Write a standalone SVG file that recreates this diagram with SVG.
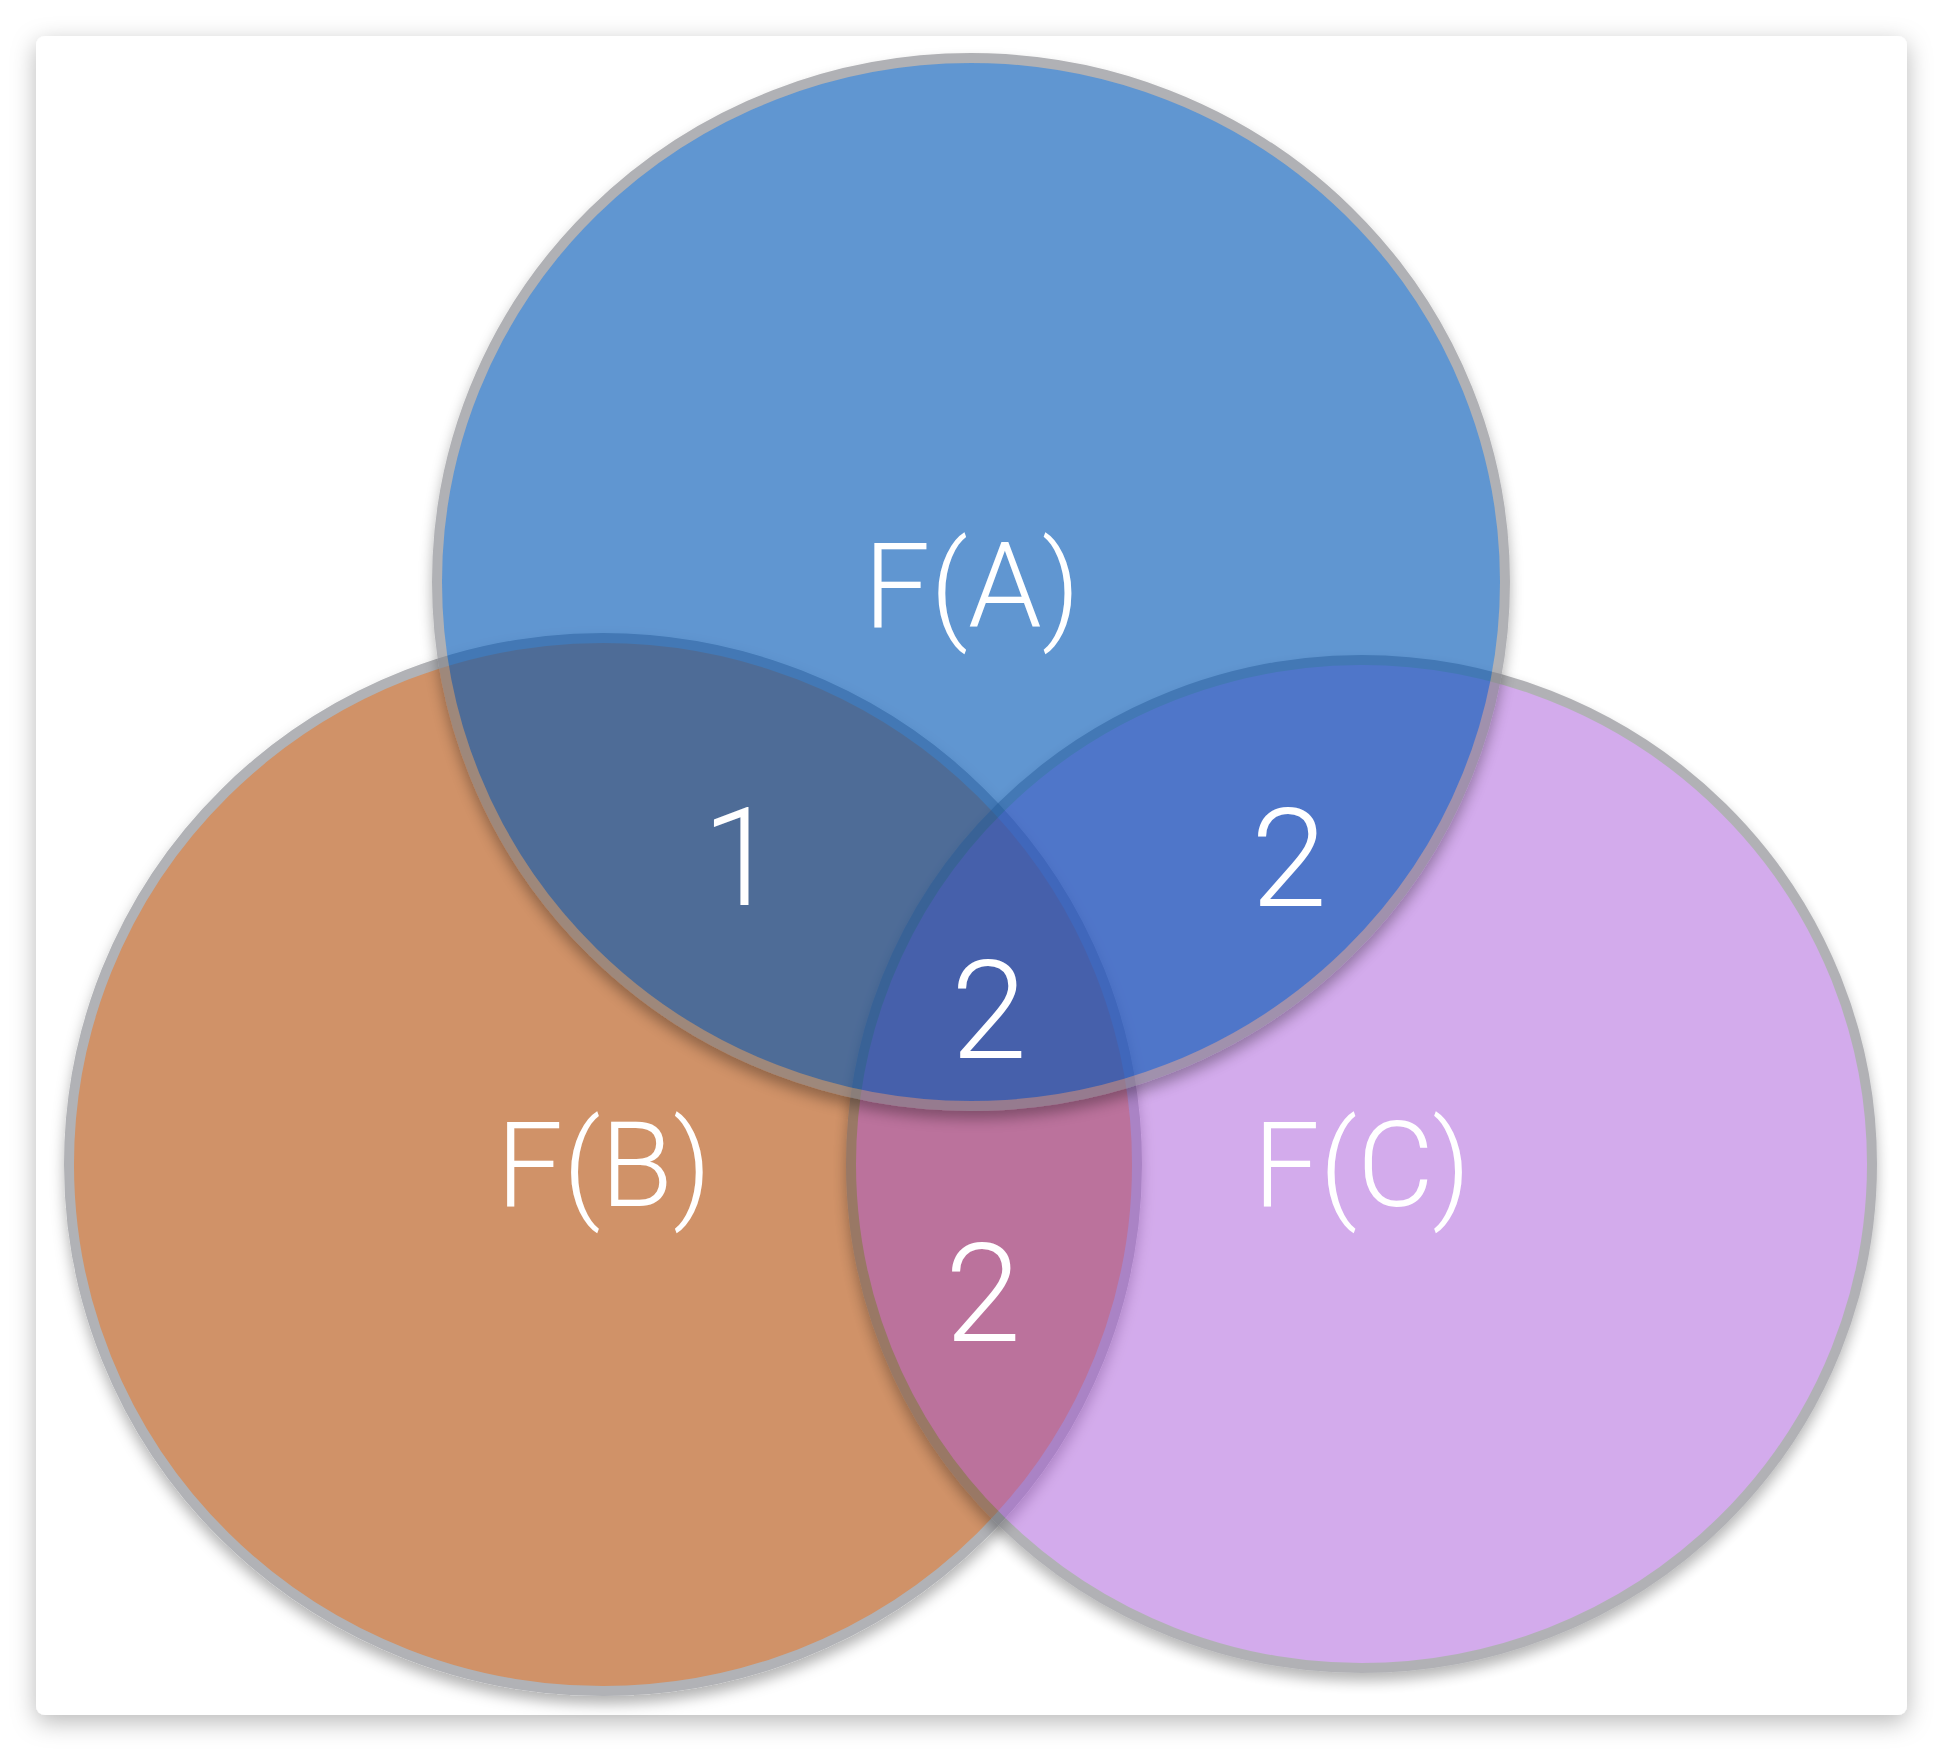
<svg xmlns="http://www.w3.org/2000/svg" width="1944" height="1752" viewBox="0 0 1944 1752">
  <defs>
    <filter id="cardShadow" x="-5%" y="-5%" width="110%" height="112%">
      <feDropShadow dx="0" dy="7" stdDeviation="12" flood-color="#000" flood-opacity="0.28"/>
    </filter>
    <filter id="shB" x="-10%" y="-10%" width="120%" height="125%">
      <feDropShadow dx="0" dy="8" stdDeviation="7" flood-color="#000" flood-opacity="0.3"/>
    </filter>
    <filter id="shA" x="-10%" y="-10%" width="120%" height="125%">
      <feDropShadow dx="0" dy="8" stdDeviation="7" flood-color="#000" flood-opacity="0.5"/>
    </filter>
    <filter id="shC" x="-10%" y="-10%" width="120%" height="125%">
      <feDropShadow dx="0" dy="8" stdDeviation="7" flood-color="#000" flood-opacity="0.62"/>
    </filter>
  </defs>
  <style>
    .lbl { font-family: Roboto, "Liberation Sans", sans-serif; font-weight: 300; fill: #ffffff; text-anchor: middle; }
    .name { font-size: 118px; }
    .num { font-size: 137px; }
  </style>
  <rect width="1944" height="1752" fill="#ffffff"/>
  <rect id="card" x="36" y="36" width="1871" height="1679" rx="9" fill="#ffffff" filter="url(#cardShadow)"/>

  <g id="circle-B" filter="url(#shB)">
    <ellipse cx="603" cy="1164.5" rx="534" ry="526.5" fill="#d09267" stroke="#b1b2b6" stroke-width="10"/>
  </g>
  <g id="circle-C" opacity="0.47" filter="url(#shC)">
    <ellipse cx="1361.5" cy="1164" rx="510.5" ry="504" fill="rgb(164,79,215)" stroke="rgb(91,92,100)" stroke-width="10"/>
  </g>
  <g id="circle-A" opacity="0.62" filter="url(#shA)">
    <ellipse cx="971" cy="582" rx="534" ry="524" fill="rgb(0,87,181)" stroke="rgb(129,130,136)" stroke-width="10"/>
  </g>

  <g id="connectors"></g>

  <g id="label-A"><text class="lbl name" x="972" y="627">F(A)</text></g>
  <g id="label-B"><text class="lbl name" x="604" y="1206">F(B)</text></g>
  <g id="label-C"><text class="lbl name" x="1362" y="1206">F(C)</text></g>
  <g id="count-AB"><text class="lbl num" x="740" y="905">1</text></g>
  <g id="count-AC"><text class="lbl num" x="1289" y="906">2</text></g>
  <g id="count-ABC"><text class="lbl num" x="989" y="1058">2</text></g>
  <g id="count-BC"><text class="lbl num" x="983" y="1341">2</text></g>
</svg>
